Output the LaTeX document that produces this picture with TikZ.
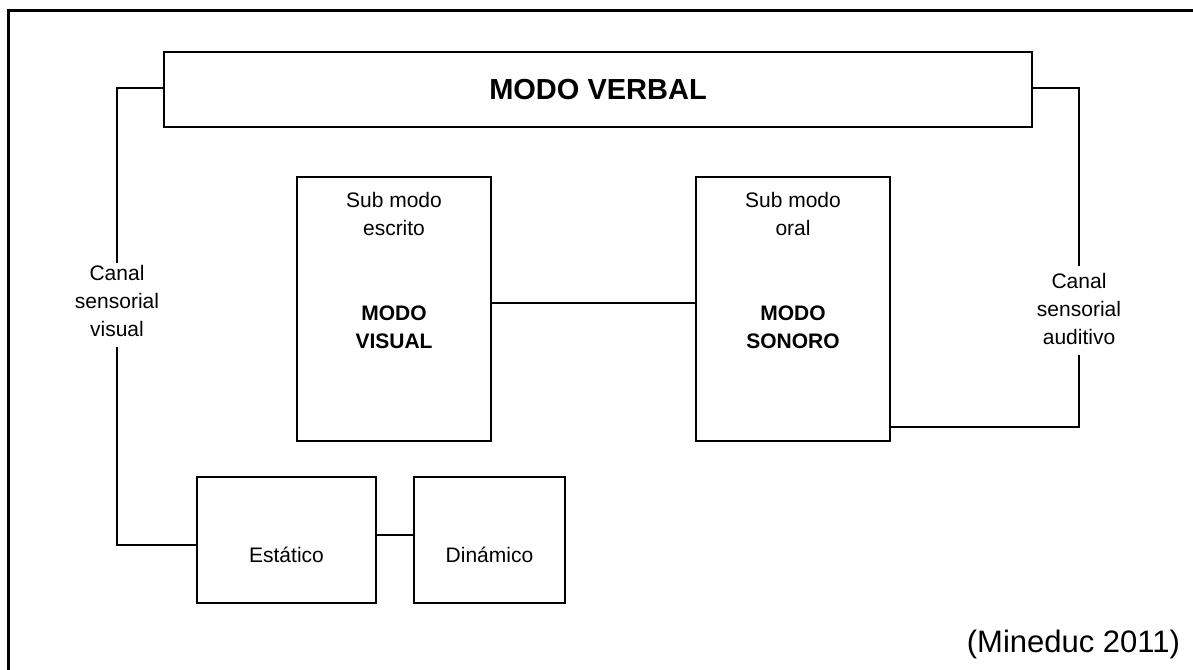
\documentclass[tikz,border=0pt]{standalone}
\usepackage{fontspec}
\setmainfont{Liberation Sans}
\usetikzlibrary{positioning}
\tikzset{
  box/.style={draw, line width=1pt, minimum width=#1, inner sep=0pt},
  txt/.style={align=center, font=\fontsize{10.5}{14}\selectfont, inner sep=1pt},
  bold/.style={txt, font=\fontsize{10.5}{14}\selectfont\bfseries}
}
\begin{document}
\begin{tikzpicture}[x=0.5pt, y=-0.5pt, line join=miter, line cap=rect]
  \useasboundingbox (0,0) rectangle (1193,669);
  % frame
  \draw[line width=1.5pt] (8,669) -- (8,10) -- (1193,10);
  % boxes
  \node[box=434pt, minimum height=37.5pt] (verbal) at (598,89.5) {};
  \node[font=\fontsize{14.5}{16}\selectfont\bfseries] at (verbal) {MODO VERBAL};
  \node[box=97pt, minimum height=132pt] (visual) at (394,308.5) {};
  \node[box=97pt, minimum height=132pt] (sonoro) at (793,308.5) {};
  \node[box=89.5pt, minimum height=63pt] (estatico) at (286.5,540) {};
  \node[box=75.5pt, minimum height=63pt] (dinamico) at (489.5,540) {};
  % texts in boxes
  \path (visual.north) ++(0,38) node[txt] {Sub modo\\escrito};
  \path (visual.center) ++(0,18.5) node[bold] {MODO\\VISUAL};
  \path (sonoro.north) ++(0,38) node[txt] {Sub modo\\oral};
  \path (sonoro.center) ++(0,18.5) node[bold] {MODO\\SONORO};
  \path (estatico.center) ++(0,15) node[txt] {Estático};
  \path (dinamico.center) ++(0,15) node[txt] {Dinámico};
  % channels
  \node[txt, inner sep=0pt] (canalvis) at (117,301) {Canal\\sensorial\\visual};
  \node[txt, inner sep=0pt] (canalaud) at (1079,309) {Canal\\sensorial\\auditivo};
  \node[anchor=base east, font=\fontsize{15.5}{18}\selectfont] at (1187,652) {(Mineduc 2011)};
  % connectors
  \begin{scope}[line width=1pt]
    \draw ([yshift=0.75pt]verbal.west) -| ([yshift=1.5pt]canalvis.north);
    \draw ([yshift=-5.5pt]canalvis.south) |- ([yshift=-2.5pt]estatico.west);
    \draw ([yshift=0.75pt]verbal.east) -| ([yshift=4pt]canalaud.north);
    \draw ([yshift=-5.5pt]canalaud.south) |- ([yshift=7.5pt]sonoro.south east);
    \draw ([yshift=3pt]visual.east) -- ([yshift=3pt]sonoro.west);
    \draw ([yshift=2.5pt]estatico.east) -- ([yshift=2.5pt]dinamico.west);
  \end{scope}
\end{tikzpicture}
\end{document}
